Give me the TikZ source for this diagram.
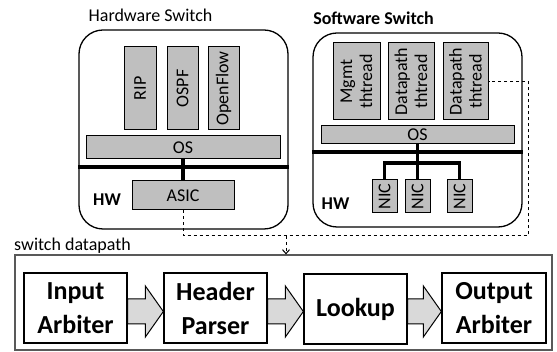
\documentclass[tikz,border=0pt]{standalone}
\usepackage{fontspec}
\setmainfont{Carlito}
\usetikzlibrary{arrows.meta,calc}
\definecolor{boxgray}{RGB}{191,191,191}
\definecolor{arrgray}{RGB}{217,217,217}
\definecolor{framegray}{RGB}{89,89,89}
\tikzset{
  sw/.style={draw=black,line width=1.3pt,rounded corners=24pt,inner sep=0pt},
  gbox/.style={draw=black,fill=boxgray,line width=1pt,inner sep=0pt,font=\fontsize{18}{20}\selectfont,align=center},
  vbox/.style={gbox,rotate=90},
  wbox/.style={draw=black,fill=white,line width=1.3pt,inner sep=0pt,align=center,font=\fontsize{26}{34}\selectfont\bfseries},
  lbl/.style={inner sep=0pt,font=\fontsize{18}{20}\selectfont},
  thick line/.style={line width=3.5pt},
  blk/.style={draw=black,fill=arrgray,line width=1pt,line join=miter},
}
\begin{document}
\begin{tikzpicture}[x=1pt,y=-1pt]
\useasboundingbox (0,0) rectangle (557,352);
% hardware switch
\node[lbl] (hwt) at (150.5,15) {Hardware Switch};
\node[sw,minimum width=209,minimum height=199] (hwbox) at (183.5,129.5) {};
\node[vbox,minimum width=83,minimum height=32] (rip) at (140,88.5) {RIP};
\node[vbox,minimum width=83,minimum height=31] (ospf) at (182.5,88.5) {OSPF};
\node[vbox,minimum width=83,minimum height=31] (of) at (223.5,88.5) {OpenFlow};
\node[gbox,minimum width=194,minimum height=23] (os1) at (183,147.5) {OS};
\node[gbox,minimum width=102,minimum height=29] (asic) at (183,195.5) {ASIC};
\node[lbl,font=\fontsize{18}{20}\selectfont\bfseries] (hw1) at (107,200) {HW};
\draw[thick line] (hwbox.west |- 0,167) -- (hwbox.east |- 0,167);
\draw[thick line] (os1.south) -- (asic.north);
% software switch
\node[lbl,font=\fontsize{18}{20}\selectfont\bfseries] (swt) at (373.5,18) {Software Switch};
\node[sw,minimum width=209,minimum height=194] (swbox) at (417.5,130) {};
\node[vbox,minimum width=77,minimum height=47] (mg) at (356.5,81.5) {Mgmt\\thtread};
\node[vbox,minimum width=77,minimum height=46] (dp1) at (411,81.5) {Datapath\\thtread};
\node[vbox,minimum width=77,minimum height=45] (dp2) at (465.5,81.5) {Datapath\\thtread};
\node[gbox,minimum width=193,minimum height=18] (os2) at (417.5,135) {OS};
\node[vbox,minimum width=33,minimum height=25] (nic1) at (384.5,196.5) {NIC};
\node[vbox,minimum width=33,minimum height=25] (nic2) at (417.5,196.5) {NIC};
\node[vbox,minimum width=33,minimum height=25] (nic3) at (459.5,196.5) {NIC};
\node[lbl,font=\fontsize{18}{20}\selectfont\bfseries] (hw2) at (335.5,204) {HW};
\draw[thick line] (swbox.west |- 0,152) -- (swbox.east |- 0,152);
\coordinate (j) at (417.5,163);
\draw[thick line] (os2.south) -- (j);
\draw[thick line] (nic1.east) |- (j) -| (nic3.east);
\draw[thick line] (j) -- (nic2.east);
% datapath
\node[lbl,anchor=west] (dpt) at (14,246) {switch datapath};
\node[draw=framegray,line width=1.2pt,minimum width=537,minimum height=95,inner sep=0pt] (dpbox) at (283.5,302.5) {};
\node[wbox,minimum width=103,minimum height=70] (ia) at (75.5,308) {Input\\Arbiter};
\node[wbox,minimum width=103,minimum height=70] (hp) at (215.5,308) {Header\\Parser};
\node[wbox,minimum width=103,minimum height=70] (lk) at (355.5,309) {Lookup};
\node[wbox,minimum width=104,minimum height=70] (oa) at (494,308) {Output\\Arbiter};
\newcommand\blockarr[2]{%
  \draw[blk] (#1.east |- 0,299) -- ($(#2.west |- 0,299)+(-18,0)$) -- ($(#2.west |- 0,286)+(-18,0)$)
    -- (#2.west |- 0,311.5) -- ($(#2.west |- 0,337)+(-18,0)$) -- ($(#2.west |- 0,324)+(-18,0)$)
    -- (#1.east |- 0,324) -- cycle;}
\blockarr{ia}{hp}
\blockarr{hp}{lk}
\blockarr{lk}{oa}
% dashed connectors
\coordinate (dr) at (528,236);
\coordinate (ar) at (286,236);
\draw[dashed,line width=1pt] (asic.south) |- (dr) |- (dp2.south);
\draw[dashed,line width=1pt,-{Straight Barb[length=4pt,width=7pt]}] (ar) -- (ar |- dpbox.north);
\end{tikzpicture}
\end{document}
